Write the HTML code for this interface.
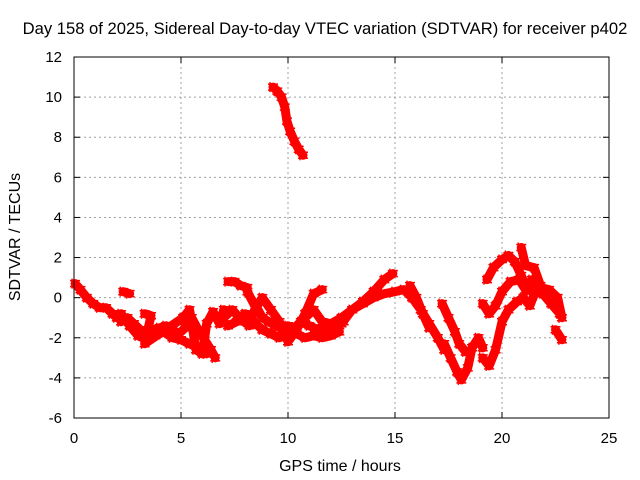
<!DOCTYPE html>
<html><head><meta charset="utf-8"><style>
body{margin:0;background:#fff;}
svg{display:block;font-family:"Liberation Sans",sans-serif;}
</style></head><body>
<svg id="chart" width="640" height="480">
<rect width="640" height="480" fill="#fff"/>
<text x="325" y="34" font-size="16.6" text-anchor="middle">Day 158 of 2025, Sidereal Day-to-day VTEC variation (SDTVAR) for receiver p402</text>
<text x="340" y="471" font-size="16" text-anchor="middle">GPS time / hours</text>
<text transform="translate(20,237) rotate(-90)" font-size="16" text-anchor="middle">SDTVAR / TECUs</text>
<g id="grid"></g><g id="marks"></g>
<rect x="74" y="57" width="535" height="361" fill="none" stroke="#000" stroke-width="1"/>
</svg>
<script>
const xTicks=[0,5,10,15,20,25];
const yTicks=[-6,-4,-2,0,2,4,6,8,10,12];
const trackA=[[0.05,0.7],[0.3,0.4],[0.6,0.0],[0.9,-0.3],[1.2,-0.5],[1.5,-0.5],[1.8,-0.8],[2.0,-1.0]];
const trackB=[[2.3,0.3],[2.6,0.2]];
const trackC=[[2.2,-1.2],[2.5,-1.0],[2.8,-1.3],[3.1,-1.6],[3.4,-1.8],[3.7,-1.6],[4.0,-1.5],[4.3,-1.4],[4.6,-1.6],[4.9,-1.8],[5.2,-1.5],[5.5,-1.0],[5.8,-1.6],[6.1,-2.1],[6.4,-2.6],[6.6,-3.0]];
const trackC2=[[2.2,-0.8],[2.6,-1.4],[3.0,-1.9],[3.4,-2.1],[3.8,-1.9],[4.2,-1.7],[4.6,-2.0],[5.0,-2.1],[5.4,-2.3],[5.8,-2.5],[6.2,-2.8]];
const trackD=[[3.3,-0.8],[3.6,-0.9],[3.3,-2.3],[5.1,-1.0],[5.4,-0.6],[5.7,-2.6],[6.0,-2.8],[6.2,-1.3],[6.5,-0.7],[6.8,-1.3],[7.0,-0.6]];
const trackE=[[7.2,0.8],[7.5,0.8],[7.8,0.6],[8.1,0.5]];
const trackF=[[7.0,-1.0],[7.4,-0.6],[7.8,-1.1],[8.2,-1.4],[8.5,-0.4],[8.8,-1.0],[9.1,-1.2],[9.4,-1.4],[9.7,-1.5],[10.0,-1.8],[10.3,-1.5],[10.6,-1.2],[11.0,-1.4],[11.4,-1.6],[11.8,-1.7],[12.2,-1.4],[12.6,-1.2]];
const trackF2=[[7.2,-1.4],[7.6,-1.2],[8.0,-0.8],[8.4,-1.2],[8.8,-1.6],[9.2,-1.8],[9.6,-2.0],[10.0,-1.4],[10.4,-1.8],[10.8,-2.0],[11.2,-1.9],[11.6,-2.0],[12.0,-1.9],[12.4,-1.7]];
const trackG=[[8.1,0.3],[8.5,-0.5],[8.8,0.0],[9.2,-0.6],[9.6,-1.2],[10.0,-2.2],[10.4,-1.6],[10.8,-0.8],[11.2,0.2],[11.6,0.4]];
const trackTop=[[9.3,10.5],[9.5,10.3],[9.7,10.0],[9.85,9.5],[9.95,8.8],[10.1,8.3],[10.3,7.8],[10.5,7.4],[10.7,7.1]];
const trackH=[[10.8,-1.0],[11.2,-0.6],[11.6,-1.2],[12.0,-1.3],[12.5,-1.0],[13.0,-0.6],[13.5,-0.2],[14.0,0.3],[14.5,0.9],[14.9,1.2]];
const trackI=[[12.0,-1.6],[12.5,-1.3],[13.0,-0.6],[13.5,-0.3],[14.0,0.0],[14.5,0.2],[15.0,0.3],[15.4,0.4],[15.8,0.0],[16.2,-0.6],[16.6,-1.3],[17.0,-2.0],[17.3,-2.6]];
const trackJ=[[15.7,0.6],[16.0,0.0],[16.3,-0.8],[16.6,-1.5]];
const trackK=[[17.2,-0.3],[17.5,-1.0],[17.8,-1.7],[18.0,-2.3],[18.3,-2.7]];
const trackL=[[17.3,-2.3],[17.6,-3.0],[17.9,-3.7],[18.1,-4.1],[18.4,-3.5],[18.6,-2.5],[18.9,-2.0],[19.1,-2.5]];
const trackM=[[19.1,-3.0],[19.4,-3.4],[19.7,-2.6],[20.0,-1.2],[20.3,-0.6],[20.7,-0.2],[21.0,0.0],[21.3,-0.4],[21.6,0.4],[22.0,0.2],[22.4,-0.2]];
const trackN=[[19.1,-0.3],[19.4,-0.8],[19.7,-0.4],[20.0,0.3],[20.4,0.8],[20.8,0.9],[21.1,0.4],[21.4,0.9],[21.8,0.5],[22.2,0.4],[22.6,0.0],[22.8,-1.0]];
const trackO=[[19.3,0.9],[19.6,1.5],[20.0,1.9],[20.3,2.1],[20.6,1.8],[20.9,1.1],[21.2,0.4],[21.5,0.3],[21.9,0.2],[22.3,-0.3],[22.7,-0.8]];
const trackP=[[20.9,2.5],[21.1,1.6],[21.5,1.5],[21.8,0.6]];
const trackQ=[[22.5,-1.6],[22.8,-2.1]];
const tracks=[trackA,trackB,trackC,trackC2,trackD,trackE,trackF,trackF2,trackG,trackTop,trackH,trackI,trackJ,trackK,trackL,trackM,trackN,trackO,trackP,trackQ];
const X=h=>74+(h-0)*(535/25);
const Y=v=>418-(v+6)*(361/18);
const NS="http://www.w3.org/2000/svg";
const grid=document.getElementById('grid'),marks=document.getElementById('marks');
function mk(t,a,p){const e=document.createElementNS(NS,t);for(const k in a)e.setAttribute(k,a[k]);p.appendChild(e);return e;}
xTicks.forEach(t=>{const x=X(t);
 if(t>0&&t<25){const l=mk('line',{x1:x,x2:x,y1:57,y2:418,stroke:'#a0a0a0','stroke-dasharray':'2,3'},grid);}
 mk('line',{x1:x,x2:x,y1:418,y2:412,stroke:'#000'},grid);mk('line',{x1:x,x2:x,y1:57,y2:63,stroke:'#000'},grid);
 const tx=mk('text',{x:x,y:443,'font-size':15,'text-anchor':'middle'},grid);tx.textContent=t;
 });
yTicks.forEach(t=>{const y=Y(t);
 if(t>-6&&t<12){const l=mk('line',{x1:74,x2:609,y1:y,y2:y,stroke:'#a0a0a0','stroke-dasharray':'2,3'},grid);}
 mk('line',{x1:74,x2:80,y1:y,y2:y,stroke:'#000'},grid);mk('line',{x1:603,x2:609,y1:y,y2:y,stroke:'#000'},grid);
 const tx=mk('text',{x:62,y:y+5,'font-size':15,'text-anchor':'end'},grid);tx.textContent=t;
 });
tracks.forEach(tr=>{
 const pl=mk('polyline',{points:tr.map(p=>X(p[0])+','+Y(p[1])).join(' '),fill:'none',stroke:'#ff0000','stroke-width':9,'stroke-linejoin':'round','stroke-linecap':'round'},marks);
 
 
 tr.forEach(p=>{const x=X(p[0]),y=Y(p[1]);
  const m=mk('path',{d:`M${x-5},${y-3}H${x+5}M${x-3},${y-5}V${y+5}M${x-5},${y+3}H${x+5}`,stroke:'#ff0000','stroke-width':1.5},marks);
  
  });
});
</script>
</body></html>
